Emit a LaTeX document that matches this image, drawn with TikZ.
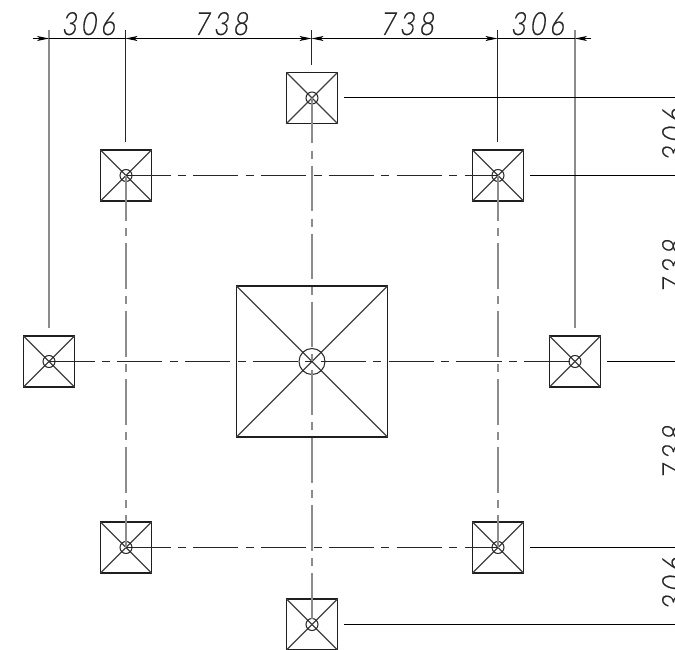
\documentclass[tikz,border=0pt]{standalone}
\usepackage{fontspec}
\usetikzlibrary{arrows.meta}
\newfontfamily\dimfont[UprightFont=* Light,LetterSpace=14,FakeStretch=0.8,FakeSlant=0.14,FakeBold=0.4]{Lato}
\tikzset{
  x=1pt,y=-1pt,
  padbox/.style={draw=black!88,line width=1.6pt,minimum size=51pt,inner sep=0pt,outer sep=0pt,shape=rectangle},
  bigbox/.style={padbox,minimum size=151pt},
  diag/.style={draw=black!75,line width=1.2pt},
  ringline/.style={draw=black!85,line width=1pt},
  centerv/.style={draw=black!45,line width=2pt,dash pattern=on 45.5pt off 7.2pt on 8pt off 7.2pt},
  centerh/.style={draw=black!85,line width=1pt,dash pattern=on 45.5pt off 7.2pt on 8pt off 7.2pt},
  extdark/.style={draw=black!85,line width=1.1pt},
  extgray/.style={draw=black!45,line width=2pt},
  extright/.style={draw=black,line width=1pt},
  dimline/.style={draw=black,line width=1pt},
  dimtip/.style={dimline,{Stealth[length=12pt,width=5pt,inset=3pt]}-{Stealth[length=12pt,width=5pt,inset=3pt]}},
  dimtext/.style={font=\dimfont\fontsize{32}{32}\selectfont,inner sep=0pt,anchor=base,text=black!85},
  dimtextr/.style={dimtext,rotate=90}
}
\begin{document}
\begin{tikzpicture}
\useasboundingbox (0,0) rectangle (675,650);
\clip (0,0) rectangle (675,650);
% pads
\foreach \n/\px/\py in {pT/312/98,pB/312/624.5,pNW/126/175.5,pNE/498/175.5,pSW/126/547.5,pSE/498/547.5,pW/49/361.5,pE/575/361.5}{
  \node[padbox] (\n) at (\px,\py) {};
  \draw[diag] (\n.north west) -- (\n.south east);
  \draw[diag] (\n.north east) -- (\n.south west);
  \node[draw,ringline,circle,minimum size=12pt,inner sep=0pt,fill=none] (r\n) at (\n.center) {};
}
\node[bigbox] (C) at (312,361.5) {};
\draw[diag] (C.north west) -- (C.south east);
\draw[diag] (C.north east) -- (C.south west);
\node[draw,ringline,circle,minimum size=26pt,inner sep=0pt] (rC) at (C.center) {};
% centre lines
\draw[centerv] (pT.center) -- (pB.center);
\draw[centerv] (pNW.center) -- (pSW.center);
\draw[centerv] (pNE.center) -- (pSE.center);
\draw[centerh] (pW.center) -- (pE.center);
\draw[centerh,dash phase=1pt] (pNW.center) -- (pNE.center);
\draw[centerh,dash phase=1pt] (pSW.center) -- (pSE.center);
% extension lines to the dimension line
\foreach \n/\px in {tW/49,tNW/125.5,tT/311.5,tNE/497.5,tE/575}{
  \coordinate (\n) at (\px,30);
  \coordinate (d\n) at (\px,38.5);
}
\coordinate (xW) at (49,328);
\coordinate (xNW) at (125.5,142.5);
\coordinate (xT) at (311.5,65);
\coordinate (xNE) at (497.5,142.5);
\coordinate (xE) at (575,328);
\draw[extgray] (tW) -- (xW);
\draw[extdark] (tNW) -- (xNW);
\draw[extdark] (tT) -- (xT);
\draw[extdark] (tNE) -- (xNE);
\draw[extgray] (tE) -- (xE);
% dimension line
\coordinate (dL) at (33,38.5);
\coordinate (dR) at (590.7,38.5);
\draw[dimline,-{Stealth[length=12pt,width=5pt,inset=3pt]}] (dL) -- (dtW);
\draw[dimline] (dtW) -- (dtNW);
\draw[dimtip] (dtNW) -- (dtT);
\draw[dimtip] (dtT) -- (dtNE);
\draw[dimline] (dtNE) -- (dtE);
\draw[dimline,-{Stealth[length=12pt,width=5pt,inset=3pt]}] (dR) -- (dtE);
% extension lines to the right
\foreach \n/\a/\py in {eT/344/98,eNE/530/175.5,eE/607/361.5,eSE/530/547.5,eB/344/624.5}{
  \coordinate (a\n) at (\a,\py);
  \coordinate (b\n) at (675,\py);
  \draw[extright] (a\n) -- (b\n);
}
% texts
\node[dimtext] (t1) at (88.5,35) {306};
\node[dimtext] (t2) at (221,35) {738};
\node[dimtext] (t3) at (407,35) {738};
\node[dimtext] (t4) at (537.5,35) {306};
\node[dimtextr] (r1) at (685,135) {306};
\node[dimtextr] (r2) at (685,267) {738};
\node[dimtextr] (r3) at (685,453) {738};
\node[dimtextr] (r4) at (685,584) {306};
\end{tikzpicture}
\end{document}
